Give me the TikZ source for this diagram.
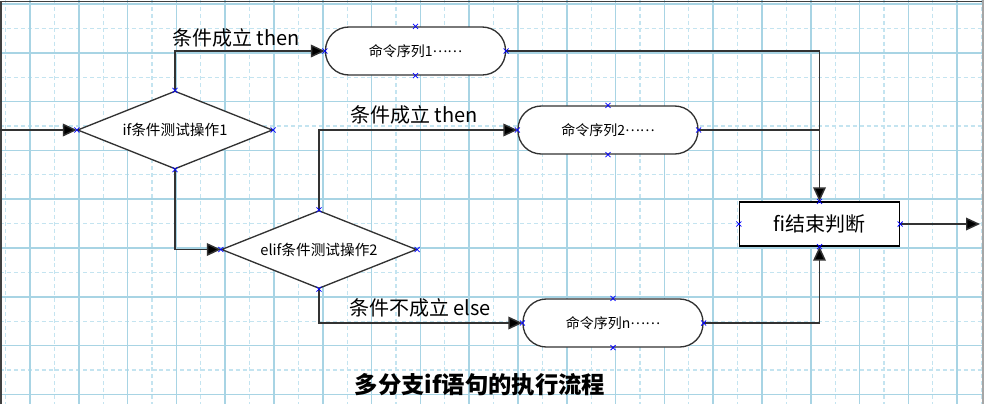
\documentclass[tikz,border=0pt]{standalone}
\usepackage{fontspec}
\newfontfamily\cjk{Noto Sans CJK SC}
\newcommand\midell{\raisebox{0.3em}{……}}
\usetikzlibrary{shapes.geometric,arrows.meta}
\definecolor{gridblue}{RGB}{168,212,228}
\definecolor{gridlight}{RGB}{196,228,240}
\definecolor{linegray}{RGB}{50,50,50}
\begin{document}
\begin{tikzpicture}[x=0.75pt,y=-0.75pt,
  gridmajor/.style={draw=gridblue,line width=1.1pt},
  gridminor/.style={draw=gridlight,line width=0.9pt,dash pattern=on 3pt off 2.2pt},
  conn/.style={draw=linegray,line width=1.1pt},
  arr/.style={conn,-{Triangle[length=10.5pt,width=9.5pt,fill=black]}},
  dia/.style={diamond,draw=linegray,line width=1pt,fill=white,inner sep=0pt,aspect=2.5,
    minimum width=195*0.75pt,minimum height=78*0.75pt,font=\cjk\fontsize{11}{12}\selectfont},
  pill/.style={rectangle,rounded corners=17.5pt,draw=linegray,line width=1pt,fill=white,inner sep=0pt,
    minimum width=180*0.75pt,minimum height=48*0.75pt,font=\cjk\fontsize{10.5}{12}\selectfont},
  endbox/.style={rectangle,draw=black,line width=1pt,fill=white,inner sep=0pt,
    minimum width=160*0.75pt,minimum height=44*0.75pt,font=\cjk\fontsize{15}{17}\selectfont},
  lbl/.style={inner sep=0pt,font=\cjk\fontsize{15}{17}\selectfont},
  xm/.style={draw=blue,line width=0.6pt}
]
\fill[white] (0,0) rectangle (984,404);
\useasboundingbox (0,0) rectangle (984,404);
% grid
\foreach \i in {0,...,20} { \draw[gridminor] ({5.6+48.8*\i},0) -- ++(0,404); }
\foreach \i in {0,...,7} { \draw[gridminor] (0,{28.4+48.8*\i}) -- ++(984,0); }
\foreach \i in {0,...,19} { \draw[gridmajor] ({30+48.8*\i},0) -- ++(0,404); }
\foreach \i in {0,...,8} { \draw[gridmajor] (0,{4+48.8*\i}) -- ++(984,0); }
% frame
\draw[draw=black!75,line width=1.4pt] (1,404) -- (1,1.5) -- (984,1.5);
\draw[draw=black!35,line width=1pt] (983,0) -- (983,404);

% nodes
\node[dia] (d1) at (175,130) {if条件测试操作1};
\node[dia] (d2) at (319,249.5) {elif条件测试操作2};
\node[pill] (p1) at (415.5,51) {命令序列1\midell};
\node[pill] (p2) at (608,130) {命令序列2\midell};
\node[pill] (p3) at (613,323) {命令序列n\midell};
\node[endbox] (fi) at (819.5,224) {fi结束判断};
\coordinate (in) at (0,130);
\coordinate (out) at (980,224);

% connectors
\draw[arr] (in) -- (d1.west);
\draw[arr] (d1.north) |- (p1.west);
\draw[arr] (d1.south) |- (d2.west);
\draw[arr] (d2.north) |- (p2.west);
\draw[arr] (d2.south) |- (p3.west);
\draw[arr] (p1.east) -| (fi.north);
\draw[conn] (p2.east) -- (p2.east -| fi.north);
\draw[arr] (p3.east) -| (fi.south);
\draw[arr] (fi.east) -- (out);

% labels
\node[lbl] (l1) at (236,38) {条件成立 then};
\node[lbl] (l2) at (414,115) {条件成立 then};
\node[lbl] (l3) at (420,308) {条件不成立 else};
\node[font=\cjk\bfseries\fontsize{17.5}{19}\selectfont,inner sep=0pt] (title) at (480,385) {多分支if语句的执行流程};

% connection point marks
\foreach \a in {d1.north,d1.south,d1.east,d1.west,d2.north,d2.south,d2.east,d2.west,
  p1.north,p1.south,p1.east,p1.west,p2.north,p2.south,p2.east,p2.west,
  p3.north,p3.south,p3.east,p3.west,fi.north,fi.south,fi.east,fi.west}
  { \draw[xm] (\a) +(-2.5,-2.5) -- +(2.5,2.5) +(-2.5,2.5) -- +(2.5,-2.5); }
\end{tikzpicture}
\end{document}
